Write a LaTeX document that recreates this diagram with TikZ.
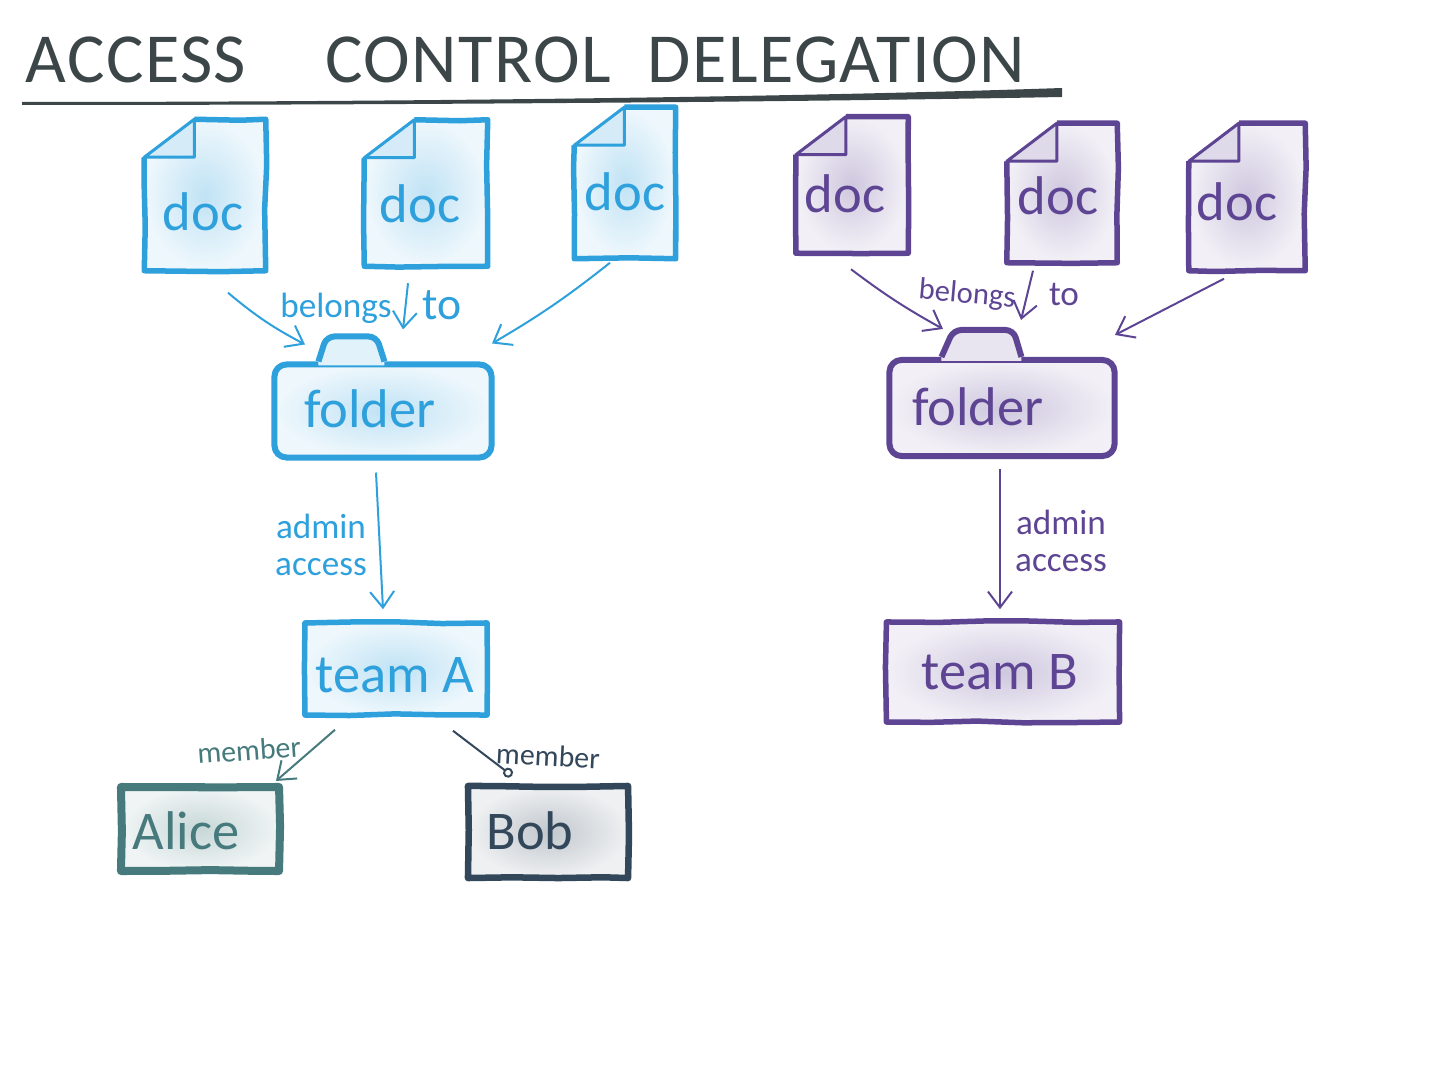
\documentclass[tikz,border=0pt]{standalone}
\usepackage{fontspec}
\setmainfont{Carlito}
\newfontfamily\titlefont[LetterSpace=2]{Carlito}
\usetikzlibrary{arrows.meta,calc,decorations.pathmorphing}
\definecolor{softblue}{RGB}{46,160,220}
\definecolor{softpurple}{RGB}{94,69,147}
\definecolor{softteal}{RGB}{70,122,124}
\definecolor{softnavy}{RGB}{51,71,91}
\definecolor{softgrey}{RGB}{60,70,72}
\newcommand{\offtext}[3]{\raisebox{#2}[0pt][0pt]{\makebox[0pt]{\hspace*{#1}#3}}}
\tikzset{
  bigtext/.style={font=\fontsize{15.5}{18}\selectfont,inner sep=0pt},
  smalltext/.style={font=\fontsize{10}{10.5}\selectfont,inner sep=0pt,align=center},
  membertext/.style={font=\fontsize{8.5}{10}\selectfont,inner sep=0pt},
  wobble/.style={decorate,decoration={random steps,segment length=0.45cm,amplitude=0.012cm}},
  washbox/.style={text=#1,shade,inner color=#1!30,outer color=#1!8,rectangle,inner sep=0pt,bigtext},
  docbox/.style={washbox=#1},
  plainbox/.style={washbox=#1,draw=#1,line width=0.055cm,line join=round,wobble},
  folderbox/.style={washbox=#1,draw=#1,line width=0.06cm,line join=round,rounded corners=0.12cm},
  flow/.style={draw=#1,line width=0.02cm,-{Straight Barb[length=0.16cm,width=0.24cm]}},
}
\begin{document}
\begin{tikzpicture}[x=0.01cm,y=-0.01cm]
  \useasboundingbox (0,0) rectangle (1440,1080);
  % heading
  \node[font=\fontsize{20}{22}\selectfont,text=softgrey,anchor=west,inner sep=0pt] (heading) at (25,60) {\titlefont ACCESS\hspace{0.62cm} CONTROL\hspace{0.2cm} DELEGATION};
  \fill[softgrey] (22,102) .. controls (400,102) and (800,97) .. (1062,88) -- (1062,97) .. controls (800,102) and (400,105) .. (22,105) -- cycle;
  % team A side
  \node[docbox=softblue,minimum width=1.2cm,minimum height=1.5cm] (doca) at (205,195) {\offtext{-0.04cm}{-0.35cm}{doc}};
  \node[docbox=softblue,minimum width=1.22cm,minimum height=1.45cm] (docb) at (426,193) {\offtext{-0.12cm}{-0.29cm}{doc}};
  \node[docbox=softblue,minimum width=1.0cm,minimum height=1.5cm] (docc) at (625,183) {\offtext{0cm}{-0.27cm}{doc}};
  \node[folderbox=softblue,minimum width=2.17cm,minimum height=0.93cm] (foldera) at (383,411) {\offtext{-0.26cm}{-0.16cm}{folder}};
  \node[plainbox=softblue,minimum width=1.82cm,minimum height=0.92cm] (teama) at (396,669) {\offtext{-0.02cm}{-0.23cm}{team A}};
  \node[plainbox=softteal,line width=0.08cm,minimum width=1.58cm,minimum height=0.84cm] (alice) at (200,829) {\offtext{-0.28cm}{-0.2cm}{Alice}};
  \node[plainbox=softnavy,line width=0.065cm,minimum width=1.6cm,minimum height=0.92cm] (bob) at (548,832) {\offtext{-0.36cm}{-0.17cm}{Bob}};
  % team B side
  \node[docbox=softpurple,minimum width=1.11cm,minimum height=1.35cm] (docd) at (852,185) {\offtext{-0.14cm}{-0.27cm}{doc}};
  \node[docbox=softpurple,minimum width=1.09cm,minimum height=1.38cm] (doce) at (1062,193) {\offtext{-0.08cm}{-0.21cm}{doc}};
  \node[docbox=softpurple,minimum width=1.15cm,minimum height=1.46cm] (docf) at (1247,197) {\offtext{-0.2cm}{-0.23cm}{doc}};
  \node[folderbox=softpurple,minimum width=2.25cm,minimum height=0.96cm] (folderb) at (1002,408) {\offtext{-0.48cm}{-0.17cm}{folder}};
  \node[plainbox=softpurple,minimum width=2.33cm,minimum height=1.0cm] (teamb) at (1003,672) {\offtext{-0.06cm}{-0.17cm}{team B}};
  % page outlines and corners
  \foreach \d/\c in {doca/softblue,docb/softblue,docc/softblue,docd/softpurple,doce/softpurple,docf/softpurple} {
    \fill[white] ($(\d.north west)+(-1,-1)$) -- ($(\d.north west)+(50,-1)$) -- ($(\d.north west)+(-1,38)$) -- cycle;
    \fill[\c!20] ($(\d.north west)+(50,0)$) -- ($(\d.north west)+(50,38)$) -- ($(\d.north west)+(0,38)$) -- cycle;
    \draw[\c,line width=0.055cm,line join=round,wobble] ($(\d.north west)+(50,0)$) -- (\d.north east) -- (\d.south east) -- (\d.south west) -- ($(\d.north west)+(0,38)$);
    \draw[\c,line width=0.03cm,line join=round] ($(\d.north west)+(0,38)$) -- ($(\d.north west)+(50,0)$) -- ($(\d.north west)+(50,38)$) -- cycle;
  }
  % folder tabs
  \fill[softblue!14] ($(foldera.north west)+(47,-1)$) -- ++(8,-25) -- ++(50,0) -- ++(8,25) -- ++(0,5) -- ++(-66,0) -- cycle;
  \draw[softblue,line width=0.06cm,rounded corners=0.08cm] ($(foldera.north west)+(47,0)$) -- ++(8,-25) -- ++(50,0) -- ++(8,25);
  \fill[softpurple!14] ($(folderb.north west)+(55,-1)$) -- ++(12,-27) -- ++(60,0) -- ++(8,27) -- ++(0,5) -- ++(-80,0) -- cycle;
  \draw[softpurple,line width=0.06cm,rounded corners=0.08cm] ($(folderb.north west)+(55,0)$) -- ++(12,-27) -- ++(60,0) -- ++(8,27);
  % connectors
  \draw[flow=softblue] ([shift={(23,22)}]doca.south) to[bend right=6] ([shift={(-78,-17)}]foldera.north);
  \draw[flow=softblue] ([shift={(-18,17)}]docb.south) to ([shift={(20,-32)}]foldera.north);
  \draw[flow=softblue] ([shift={(-15,4)}]docc.south) to[bend left=4] ([shift={(109,-18)}]foldera.north);
  \draw[flow=softblue] ([shift={(-7,12)}]foldera.south) to ([shift={(-13,-11)}]teama.north);
  \draw[flow=softteal] ([shift={(-61,12)}]teama.south) to ([shift={(76,-2)}]alice.north);
  \draw[softnavy,line width=0.02cm,-{Circle[open,length=0.1cm]}] ([shift={(57,13)}]teama.south) to ([shift={(-36,-7)}]bob.north);
  \draw[flow=softpurple] ([shift={(-1,16)}]docd.south) to[bend right=4] ([shift={(-59,-28)}]folderb.north);
  \draw[flow=softpurple] ([shift={(-29,8)}]doce.south) to ([shift={(19,-37)}]folderb.north);
  \draw[flow=softpurple] ([shift={(-23,8)}]docf.south) to ([shift={(113,-22)}]folderb.north);
  \draw[flow=softpurple] ([shift={(-2,10)}]folderb.south) to ([shift={(-3,-10)}]teamb.north);
  % edge labels
  \node[smalltext,text=softblue] (belongsa) at (336,308) {belongs};
  \node[smalltext,text=softblue,font=\fontsize{13}{14}\selectfont] (toa) at (442,305) {to};
  \node[smalltext,text=softblue] (admina) at (321,545) {admin\\access};
  \node[smalltext,text=softpurple,rotate=-5,font=\fontsize{8.7}{10}\selectfont] (belongsb) at (967,295) {belongs};
  \node[smalltext,text=softpurple] (tob) at (1064,295) {to};
  \node[smalltext,text=softpurple] (adminb) at (1061,541) {admin\\access};
  \node[membertext,text=softteal,rotate=4] (membera) at (249,750) {member};
  \node[membertext,text=softnavy,rotate=-3] (memberb) at (548,756) {member};
\end{tikzpicture}
\end{document}
